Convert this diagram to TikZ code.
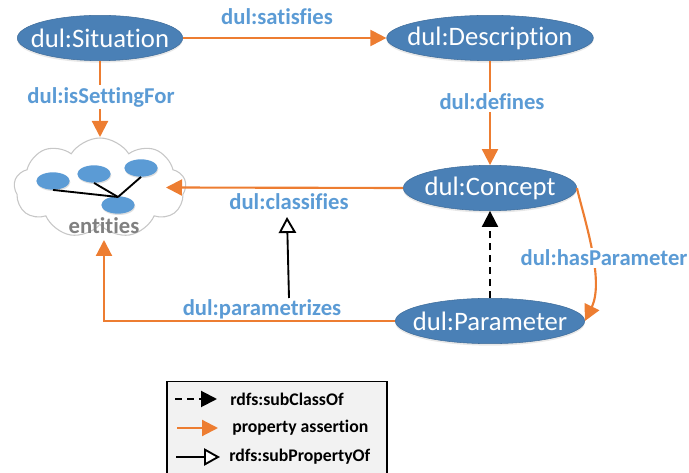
\documentclass[tikz,border=0pt]{standalone}
\usepackage{fontspec}
\setmainfont{Carlito}[Ligatures=NoCommon]
\usetikzlibrary{shapes,shapes.geometric,shapes.symbols,arrows.meta,calc,positioning,shadows}
\definecolor{ellblue}{HTML}{4A80B6}
\definecolor{smallblue}{HTML}{5B9BD5}
\definecolor{assertorange}{HTML}{ED7D31}
\definecolor{legendgray}{HTML}{F2F2F2}

\begin{document}
\begin{tikzpicture}[x=0.75pt,y=-0.75pt,
      class/.style={ellipse, fill=ellblue, draw=ellblue!85!black, text=white, inner xsep=-15pt, inner ysep=0pt, minimum height=34pt, font=\fontsize{20}{22}\selectfont, drop shadow={opacity=0.18, shadow xshift=0pt, shadow yshift=-1.5pt}},
      entity/.style={ellipse, fill=smallblue, inner sep=0pt, minimum width=25pt, minimum height=13pt, drop shadow={opacity=0.25, shadow xshift=0.5pt, shadow yshift=-1pt}},
      prop/.style={text=smallblue, inner sep=1.5pt, font=\fontsize{17}{19}\selectfont\bfseries},
      cutlabel/.style={prop, fill=white},
      legtext/.style={inner sep=0pt, font=\fontsize{13.3}{15}\selectfont\bfseries},
      assert/.style={draw=assertorange, line width=1.6pt, -{Triangle[length=12pt, width=12pt]}},
      subclass/.style={draw=black, line width=1.5pt, dash pattern=on 5.5pt off 3.5pt, -{Triangle[length=12pt, width=12pt]}},
      subprop/.style={draw=black, line width=1.4pt, -{Triangle[length=12pt, width=13pt, fill=white]}},
      spoke/.style={draw=black, line width=1.4pt}]
      \useasboundingbox (0,0) rectangle (689,473);
      % classes
      \node[class, minimum width=124pt] (situation) at (100,38) {dul:Situation};
      \node[class, minimum width=155pt] (description) at (490,38) {dul:Description};
      \node[class, minimum width=130pt] (concept) at (490,188) {dul:Concept};
      \node[class, minimum width=142pt] (parameter) at (490,321) {dul:Parameter};
      % entities cloud
      \node[cloud, cloud puffs=9, cloud puff arc=115, aspect=1.8, draw=black!22, fill=white, line width=0.8pt, minimum width=129pt, minimum height=75pt, inner sep=0pt] (cloud) at (100,188) {};
      \node[entity] (e1) at (53,181) {};
      \node[entity] (e2) at (94,174) {};
      \node[entity] (e3) at (141,168) {};
      \node[entity] (e4) at (118,205) {};
      \node[text=black!50, inner sep=0pt, font=\fontsize{17}{19}\selectfont\bfseries] (entities) at (104,226) {entities};
      \coordinate (hub) at (118,197);
      \draw[spoke] (e1.south) -- (hub);
      \draw[spoke] (e2.south) -- (hub);
      \draw[spoke] (e3.south) -- (hub);
      \coordinate (cloudtop) at (100,137);
      \coordinate (cloudright) at (166,187.5);
      \coordinate (cloudbottom) at (104,240);
      \coordinate (corner) at (104,321);
      \coordinate (classifiesfoot) at (287,217);
      \coordinate (parametrizeshead) at (289,298);
      % property assertions
      \draw[assert] (situation) -- (description);
      \node[prop] (satisfies) at (277,17) {dul:satisfies};
      \draw[assert] (situation) -- (cloudtop);
      \node[cutlabel] (settingfor) at (101,97) {dul:isSettingFor};
      \draw[assert] (description) -- (concept);
      \node[cutlabel] (defines) at (492,102) {dul:defines};
      \draw[assert] (concept.west) -- (cloudright);
      \node[prop] (classifies) at (289,202) {dul:classifies};
      \draw[assert] (parameter.west) -- (corner) -- (cloudbottom);
      \node[prop] (parametrizes) at (262,309) {dul:parametrizes};
      \draw[assert] (concept.east) .. controls (583,215) and (605,280) .. (parameter.east);
      \node[cutlabel] (hasparameter) at (604,258) {dul:hasParameter};
      % sub relations
      \draw[subclass] (parameter) -- (concept);
      \draw[subprop] (parametrizeshead) -- (classifiesfoot);
      % legend
      \node[rectangle, draw=black, fill=legendgray, line width=0.8pt, minimum width=165pt, minimum height=76pt, inner sep=0pt] (legend) at (277,432.5) {};
      \coordinate (la1) at (175,399);
      \coordinate (la2) at (217,399);
      \coordinate (lb1) at (177,428);
      \coordinate (lb2) at (218,428);
      \coordinate (lc1) at (176,457);
      \coordinate (lc2) at (220,457);
      \draw[subclass] (la1) -- (la2);
      \draw[assert] (lb1) -- (lb2);
      \draw[subprop] (lc1) -- (lc2);
      \node[legtext, right] (lsubclass) at (230,399) {rdfs:subClassOf};
      \node[legtext, right] (lassert) at (232,428) {property assertion};
      \node[legtext, right] (lsubprop) at (229,457) {rdfs:subPropertyOf};
\end{tikzpicture}
\end{document}
